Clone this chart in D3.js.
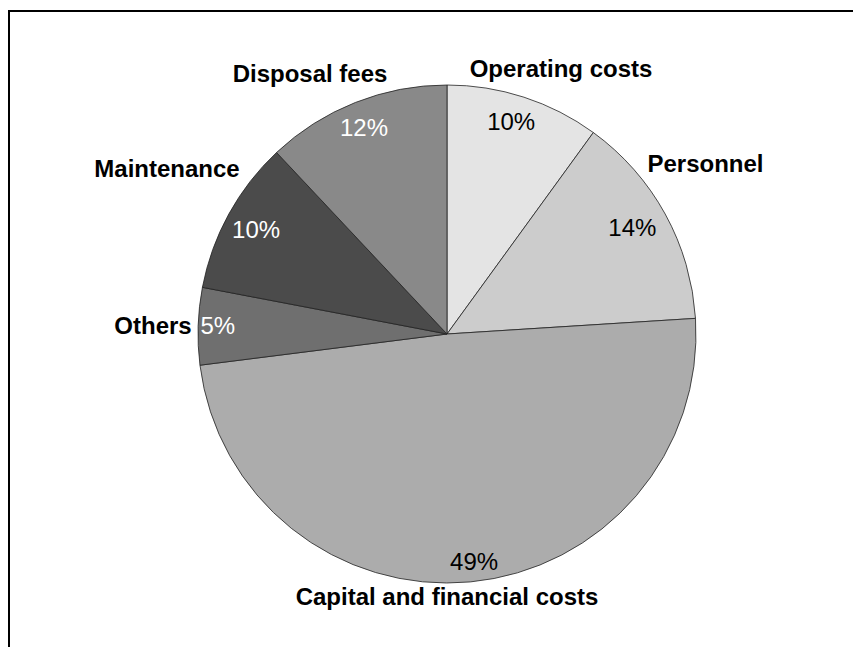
<!DOCTYPE html>
<html>
<head>
<meta charset="utf-8">
<script src="https://cdn.jsdelivr.net/npm/d3@7/dist/d3.min.js"></script>
<style>
  html, body { margin: 0; padding: 0; background: #fff; }
  svg { display: block; }
  text { font-family: "Liberation Sans", Arial, Helvetica, sans-serif; }
</style>
</head>
<body>
<svg id="chart" width="853" height="647"></svg>
<script>
// ---- data ----
const categories = ["Operating costs", "Personnel", "Capital and financial costs", "Others", "Maintenance", "Disposal fees"];
const values = [10, 14, 49, 5, 10, 12];
const percentLabels = ["10%", "14%", "49%", "5%", "10%", "12%"];

// ---- styling / layout (not data) ----
const fills = ["#e4e4e4", "#cccccc", "#acacac", "#6f6f6f", "#4b4b4b", "#898989"];
const pctColors = ["#000", "#000", "#000", "#fff", "#fff", "#fff"];
// percent label placement: [angle in degrees clockwise from 12 o'clock, radius in px]
const pctPlacement = [[16.8, 222], [60.0, 214], [173.2, 228.6], [272.1, 229.3], [298.7, 217.7], [338.1, 222.6]];
// category label placement: offset of label centre from pie centre
const catPlacement = [[114, -265.5], [258.5, -170.5], [0, 262.5], [-294, -8.5], [-280, -165.5], [-137, -260.5]];

const W = 853, H = 647;
const cx = 447, cy = 334, R = 249;

const svg = d3.select("#chart");

// frame (only top and left edges visible)
svg.append("rect")
  .attr("x", 9).attr("y", 11)
  .attr("width", W + 40).attr("height", H + 40)
  .attr("fill", "none").attr("stroke", "#000").attr("stroke-width", 2);

const g = svg.append("g").attr("transform", `translate(${cx},${cy})`);

const pie = d3.pie().sort(null).value(d => d);
const arcs = pie(values);
const arc = d3.arc().innerRadius(0).outerRadius(R);

g.selectAll("path.slice")
  .data(arcs)
  .enter().append("path")
  .attr("class", "slice")
  .attr("d", arc)
  .attr("fill", (d, i) => fills[i])
  .attr("stroke", "#222")
  .attr("stroke-width", 0.8)
  .attr("stroke-linejoin", "round");

// percent labels
g.selectAll("text.pct")
  .data(arcs)
  .enter().append("text")
  .attr("class", "pct")
  .attr("x", (d, i) => pctPlacement[i][1] * Math.sin(pctPlacement[i][0] * Math.PI / 180))
  .attr("y", (d, i) => -pctPlacement[i][1] * Math.cos(pctPlacement[i][0] * Math.PI / 180))
  .attr("dy", "0.355em")
  .attr("text-anchor", "middle")
  .attr("font-size", 24)
  .attr("fill", (d, i) => pctColors[i])
  .text((d, i) => percentLabels[i]);

// category labels
g.selectAll("text.cat")
  .data(arcs)
  .enter().append("text")
  .attr("class", "cat")
  .attr("x", (d, i) => catPlacement[i][0])
  .attr("y", (d, i) => catPlacement[i][1])
  .attr("dy", "0.355em")
  .attr("text-anchor", "middle")
  .attr("font-size", 24)
  .attr("font-weight", "bold")
  .attr("fill", "#000")
  .text((d, i) => categories[i]);
</script>
</body>
</html>
